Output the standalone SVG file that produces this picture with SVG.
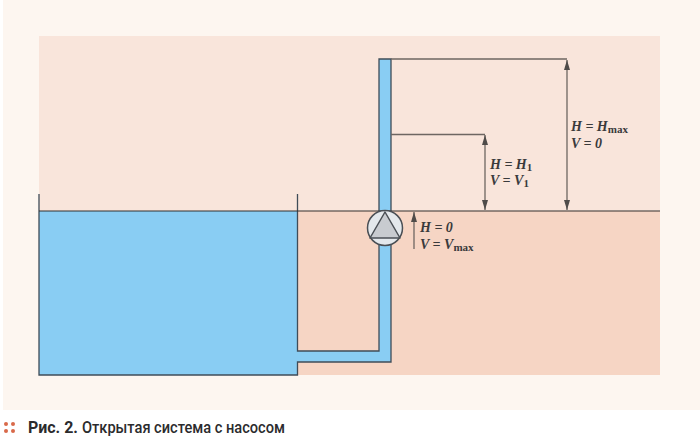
<svg xmlns="http://www.w3.org/2000/svg" width="700" height="442" viewBox="0 0 700 442">
<style>
.o{fill:none;stroke:#3f4c58;stroke-width:1.3}
.d{fill:none;stroke:#6e6662;stroke-width:1.3}
.t{font-family:"Liberation Serif",serif;font-size:14px;font-weight:bold;font-style:italic;fill:#3a3a3c}
.s{font-style:normal;font-size:11px}
.c{font-family:"Roboto","Liberation Sans",sans-serif;font-size:17px;fill:#2b2b2d}
</style>
<defs>
<marker id="a" viewBox="0 0 10 6" refX="10" refY="3" markerWidth="10" markerHeight="6" markerUnits="userSpaceOnUse" orient="auto-start-reverse"><path d="M10 3L0 0V6Z" fill="#4f4b49"/></marker>
</defs>
<rect width="700" height="442" fill="#fff"/>
<rect x="3" y="0" width="697" height="410" fill="#fdf6f0"/>
<rect x="39" y="36" width="621" height="175" fill="#f9e5db"/>
<rect x="39" y="211" width="621" height="164" fill="#f6d5c4"/>
<g id="tank">
<path d="M39 211H297.500V351H379V59H391V362H297.500V375H39Z" fill="#89cdf3"/>
<path class="o" d="M39 194V375H297.500V362H391V59H379V351H297.500V194"/>
</g>
<g id="connectors">
<path class="d" d="M391 59H567M391 134.500H485"/>
<path d="M39 211H660" fill="none" stroke="#33302f" stroke-width="1.200"/>
<path class="d" d="M567 60V210" marker-start="url(#a)" marker-end="url(#a)"/>
<path class="d" d="M485 135V210" marker-start="url(#a)" marker-end="url(#a)"/>
<path class="d" d="M414 212V249" marker-start="url(#a)"/>
</g>
<g id="pump">
<circle cx="385" cy="228" r="17.500" fill="#e4e8ec" stroke="#4a4f55" stroke-width="1.500"/>
<path d="M385 212L370 238H400Z" fill="#c8cbd0" stroke="#4a4f55" stroke-width="1.500" stroke-linejoin="round"/>
</g>
<g id="label-hmax"><text class="t" x="571" y="131">H = H<tspan class="s" dy="2">max</tspan></text><text class="t" x="571" y="148">V = 0</text></g>
<g id="label-h1"><text class="t" x="490" y="169">H = H<tspan class="s" dy="2">1</tspan></text><text class="t" x="490" y="185">V = V<tspan class="s" dy="2">1</tspan></text></g>
<g id="label-h0"><text class="t" x="420" y="232">H = 0</text><text class="t" x="420" y="249">V = V<tspan class="s" dy="2">max</tspan></text></g>
<g id="caption">
<g fill="#d9694a"><circle cx="6" cy="424" r="2"/><circle cx="13" cy="424" r="2"/><circle cx="6" cy="431" r="2"/><circle cx="13" cy="431" r="2"/></g>
<text class="c" x="28" y="433" font-weight="bold" textLength="50" lengthAdjust="spacingAndGlyphs">Рис. 2.</text>
<text class="c" x="82" y="433" font-weight="500" textLength="203" lengthAdjust="spacingAndGlyphs">Открытая система с насосом</text>
</g>
</svg>
